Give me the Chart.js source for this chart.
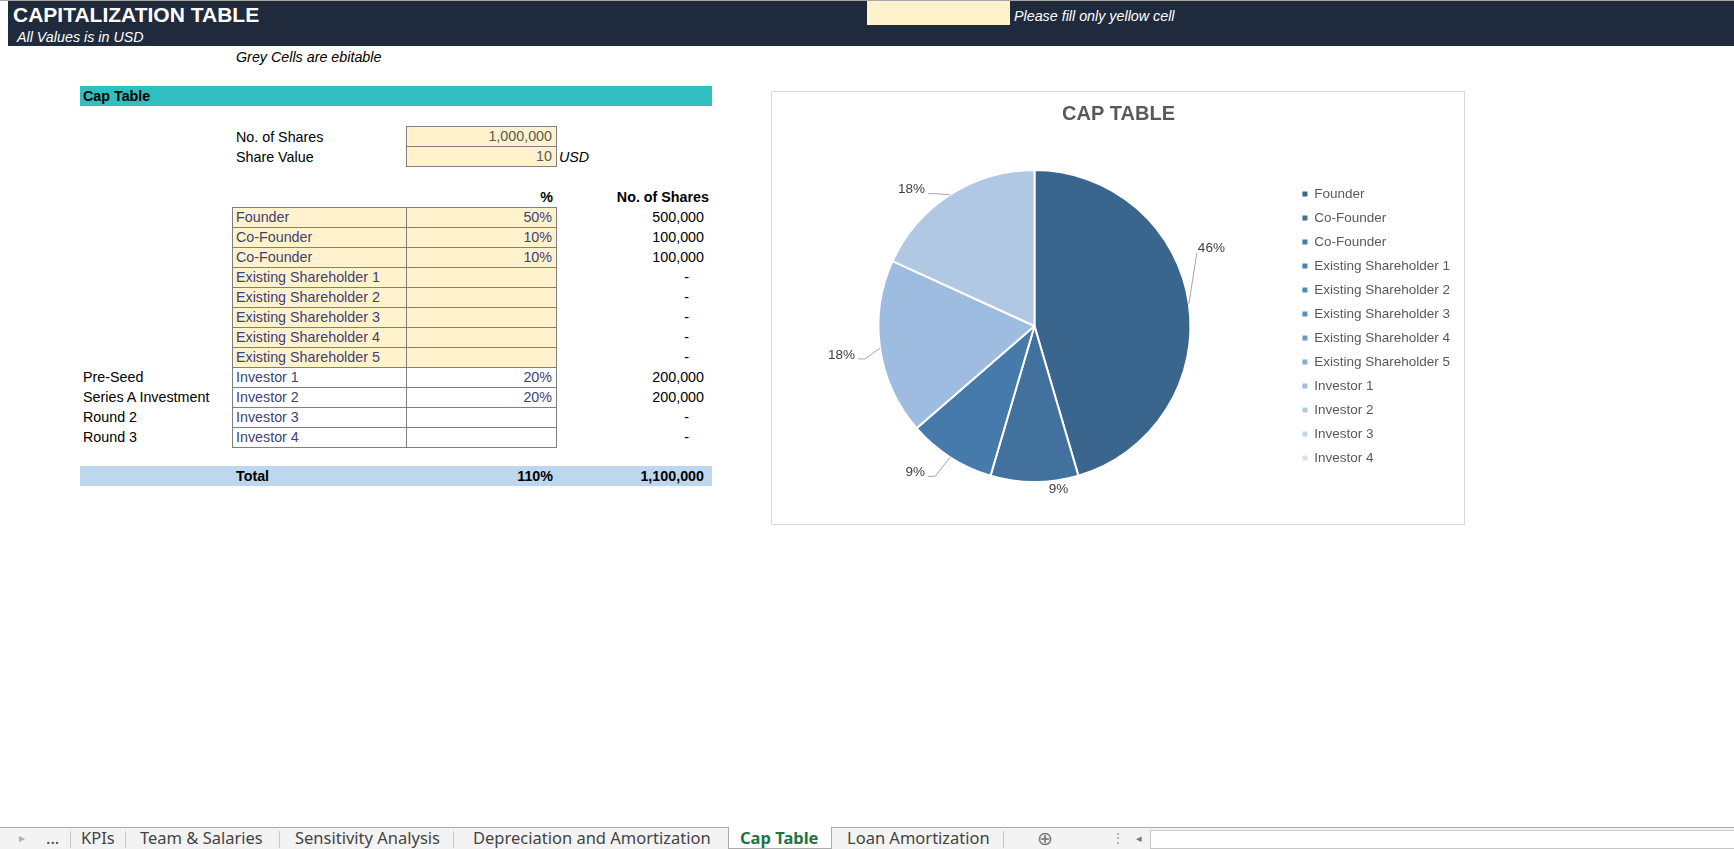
<!DOCTYPE html>
<html>
<head>
<meta charset="utf-8">
<script src="https://cdn.jsdelivr.net/npm/chart.js@4.4.1/dist/chart.umd.min.js"></script>
<style>
  html, body { margin: 0; padding: 0; }
  body {
    width: 1734px; height: 849px; overflow: hidden; position: relative;
    background: #fff; font-family: "Liberation Sans", Arial, sans-serif; font-size: 14.3px; color: #000;
  }
  .abs { position: absolute; white-space: nowrap; }
  #topline { left: 0; top: 0; width: 1734px; height: 1px; background: #A6A6A6; }
  #band { left: 8px; top: 1px; width: 1726px; height: 45px; background: #1F2A3D; }
  #title { left: 13px; top: 3px; font-size: 21px; font-weight: bold; color: #fff; }
  #subtitle { left: 17px; top: 29px; font-style: italic; color: #fff; }
  #yellowCell { left: 867px; top: 1px; width: 143px; height: 24px; background: #FFF2CC; }
  #fillNote { left: 1014px; top: 8px; font-style: italic; color: #fff; }
  #greyNote { left: 236px; top: 49px; font-style: italic; }
  #capBar { left: 80px; top: 86px; width: 632px; height: 20px; background: #31BEBE; }
  #capBar span { position: absolute; left: 3px; top: 2px; font-weight: bold; }
  .cell { position: absolute; box-sizing: border-box; height: 21px; border: 1px solid #7F7F7F; padding: 1px 4px 0 3px; white-space: nowrap; }
  .yellow { background: #FFF2CC; }
  .input { color: #3F3F76; }
  .num { text-align: right; }
  #totalBar { left: 80px; top: 466px; width: 632px; height: 20px; background: #BDD7EE; font-weight: bold; }
  #chartBox { left: 771px; top: 91px; width: 694px; height: 434px; box-sizing: border-box; border: 1px solid #D9D9D9; background: #fff; }
  #chartBox canvas { display: block; }
  #tabs { left: 0; top: 827px; width: 1734px; height: 22px; background: #F3F3F3; border-top: 1px solid #ABABAB; box-sizing: border-box;
          font-family: "Noto Sans", "Open Sans", sans-serif; font-size: 16.5px; color: #444; }
  .tab { position: absolute; top: -1px; line-height: 21px; }
  .sep { position: absolute; top: 3px; width: 1px; height: 17px; background: #C8C8C8; }
</style>
</head>
<body>
<div class="abs" id="topline"></div>
<div class="abs" id="band"></div>
<div class="abs" id="title">CAPITALIZATION TABLE</div>
<div class="abs" id="subtitle">All Values is in USD</div>
<div class="abs" id="yellowCell"></div>
<div class="abs" id="fillNote">Please fill only yellow cell</div>
<div class="abs" id="greyNote">Grey Cells are ebitable</div>
<div class="abs" id="capBar"><span>Cap Table</span></div>
<div class="abs" id="totalBar"></div>
<div class="abs" id="chartBox"><canvas id="chart-cap-table" width="692" height="432"></canvas></div>
<div class="abs" id="tabs"></div>

<script>
// -- DATA ----------------------------------------------
const holders = [
  "Founder", "Co-Founder", "Co-Founder",
  "Existing Shareholder 1", "Existing Shareholder 2", "Existing Shareholder 3",
  "Existing Shareholder 4", "Existing Shareholder 5",
  "Investor 1", "Investor 2", "Investor 3", "Investor 4"
];
const holderPct = [50, 10, 10, null, null, null, null, null, 20, 20, null, null];
const holderShares = [500000, 100000, 100000, 0, 0, 0, 0, 0, 200000, 200000, 0, 0];
const roundLabels = ["", "", "", "", "", "", "", "", "Pre-Seed", "Series A Investment", "Round 2", "Round 3"];
const totalShares = 1000000;
const shareValue = 10;
const sheetTabs = ["KPIs", "Team & Salaries", "Sensitivity Analysis", "Depreciation and Amortization", "Cap Table", "Loan Amortization"];
const activeTab = "Cap Table";

const sliceColors = [
  "#3A668E", "#41719C", "#467AAB", "#4A80B5", "#5087BD", "#5A8FC5",
  "#6A9BCF", "#84ACD9", "#9DBCE0", "#B1C8E5", "#C4D5EC", "#D6E2F2"
];

function fmt(n) {
  return n.toLocaleString("en-US");
}

function place(el, x, y, w, extra) {
  el.style.left = x + "px";
  el.style.top = y + "px";
  if (w) el.style.width = w + "px";
  if (extra) Object.assign(el.style, extra);
  document.body.appendChild(el);
  return el;
}

function text(str, cls) {
  const el = document.createElement("div");
  el.className = "abs " + (cls || "");
  el.textContent = str;
  return el;
}

// -- SHEET ---------------------------------------------
function buildSheet() {
  place(text("No. of Shares"), 236, 129);
  place(text("Share Value"), 236, 149);
  const c1 = text(fmt(totalShares), "cell yellow num");
  c1.style.color = "#595959";
  place(c1, 406, 126, 151);
  const c2 = text(String(shareValue), "cell yellow num");
  c2.style.color = "#595959";
  place(c2, 406, 146, 151);
  place(text("USD"), 559, 149, 0, { fontStyle: "italic" });

  place(text("%"), 553, 189, 0, { fontWeight: "bold", transform: "translateX(-100%)" });
  place(text("No. of Shares"), 709, 189, 0, { fontWeight: "bold", transform: "translateX(-100%)" });

  holders.forEach((name, i) => {
    const top = 207 + i * 20;
    const fill = i < 8 ? "yellow" : "";
    place(text(name, "cell input " + fill), 232, top, 175);
    place(text(holderPct[i] ? holderPct[i] + "%" : "", "cell input num " + fill), 406, top, 151);
    if (roundLabels[i]) place(text(roundLabels[i]), 83, top + 2);
    const shares = holderShares[i] ? fmt(holderShares[i]) : "-";
    place(text(shares), holderShares[i] ? 704 : 689, top + 2, 0, { transform: "translateX(-100%)" });
  });

  const pctTotal = holderPct.reduce((a, b) => a + (b || 0), 0);
  const shareTotal = holderShares.reduce((a, b) => a + b, 0);
  place(text("Total"), 236, 468, 0, { fontWeight: "bold" });
  place(text(pctTotal + "%"), 553, 468, 0, { fontWeight: "bold", transform: "translateX(-100%)" });
  place(text(fmt(shareTotal)), 704, 468, 0, { fontWeight: "bold", transform: "translateX(-100%)" });
}

function buildTabs() {
  const bar = document.getElementById("tabs");
  const lefts = [81, 140, 295, 473, 740, 847];
  const seps = [70, 125, 279, 453, 1003];
  const add = (html, x, css) => {
    const el = document.createElement("div");
    el.className = "tab";
    el.innerHTML = html;
    el.style.left = x + "px";
    if (css) Object.assign(el.style, css);
    bar.appendChild(el);
    return el;
  };
  add("&#9656;", 19, { color: "#B0B0B0", fontSize: "12px" });
  add("...", 46, { color: "#444" });
  seps.forEach((x) => {
    const s = document.createElement("div");
    s.className = "sep";
    s.style.left = x + "px";
    bar.appendChild(s);
  });
  const act = document.createElement("div");
  act.style.cssText = "position:absolute;left:728px;top:-1px;width:104px;height:22px;background:#fff;border:1px solid #ABABAB;border-top:none;box-sizing:border-box;";
  bar.appendChild(act);
  sheetTabs.forEach((name, i) => {
    const el = add("", lefts[i]);
    el.textContent = name;
    if (name === activeTab) {
      el.style.color = "#217346";
      el.style.fontWeight = "bold";
    }
  });
  add("&#8853;", 1037, { color: "#777", fontSize: "19px", lineHeight: "22px" });
  add("&#8942;", 1112, { color: "#999", fontSize: "12px" });
  add("&#9666;", 1136, { color: "#777", fontSize: "11px" });
  const sb = document.createElement("div");
  sb.style.cssText = "position:absolute;left:1150px;top:2px;width:584px;height:19px;background:#fff;border:1px solid #C6C6C6;border-right:none;box-sizing:border-box;";
  bar.appendChild(sb);
}

// -- CHART ---------------------------------------------
function roundedPercents(values) {
  const total = values.reduce((a, b) => a + b, 0);
  const raw = values.map((v) => (v / total) * 100);
  const out = raw.map(Math.floor);
  const missing = 100 - out.reduce((a, b) => a + b, 0);
  const order = raw.map((r, i) => [r - out[i], i]).sort((a, b) => b[0] - a[0]);
  for (let k = 0; k < missing; k++) out[order[k][1]] += 1;
  return out.map((p) => p + "%");
}

// percentage labels outside the pie with leader lines, roughly like Excel's best fit
const outsideLabels = {
  id: "outsideLabels",
  afterDatasetsDraw(chart) {
    const values = chart.data.datasets[0].data;
    const labels = roundedPercents(values);
    const meta = chart.getDatasetMeta(0);
    const ctx = chart.ctx;
    ctx.save();
    ctx.font = '13.5px "Liberation Sans", Arial, sans-serif';
    ctx.fillStyle = "#404040";
    ctx.strokeStyle = "#A6A6A6";
    ctx.lineWidth = 1;
    meta.data.forEach((arc, i) => {
      if (!values[i]) return;
      const p = arc.getProps(["x", "y", "startAngle", "endAngle", "outerRadius"], true);
      const mid = (p.startAngle + p.endAngle) / 2;
      const cos = Math.cos(mid);
      const sin = Math.sin(mid);
      const ex = p.x + cos * p.outerRadius;
      const ey = p.y + sin * p.outerRadius;
      if (Math.abs(cos) < 0.3) {
        ctx.textAlign = "center";
        ctx.textBaseline = sin > 0 ? "top" : "bottom";
        ctx.fillText(labels[i], ex + 24, ey + sin * 1);
        return;
      }
      ctx.textBaseline = "middle";
      ctx.beginPath();
      ctx.moveTo(ex, ey);
      if (cos > 0 && Math.abs(sin) < 0.3) {
        // wide slice on the right: label lifted above, leader runs up
        const ax = ex + 8;
        const ay = ey - 51;
        ctx.lineTo(ax, ay);
        ctx.stroke();
        ctx.textAlign = "left";
        ctx.fillText(labels[i], ax + 1, ay - 5);
        return;
      }
      const dir = cos > 0 ? 1 : -1;
      const ax = ex + dir * 15;
      const ay = ey + 9 + sin * 12;
      const hx = ax + dir * 7;
      ctx.lineTo(ax, ay);
      ctx.lineTo(hx, ay);
      ctx.stroke();
      ctx.textAlign = dir > 0 ? "left" : "right";
      ctx.fillText(labels[i], hx + dir * 3, ay - 4);
    });
    ctx.restore();
  }
};

function createCapChart() {
  const ctx = document.getElementById("chart-cap-table");
  const baseLabels = Chart.overrides.pie.plugins.legend.labels.generateLabels;
  const fontFamily = '"Liberation Sans", Arial, sans-serif';
  return new Chart(ctx, {
    type: "pie",
    data: {
      labels: holders,
      datasets: [
        {
          data: holderShares,
          backgroundColor: sliceColors,
          borderColor: "#FFFFFF",
          borderWidth: 2,
          radius: 156
        }
      ]
    },
    options: {
      responsive: false,
      animation: false,
      layout: { padding: { left: 5, right: 4, top: 0, bottom: 8 } },
      plugins: {
        title: {
          display: true,
          text: "CAP TABLE",
          color: "#595959",
          font: { family: fontFamily, size: 20, weight: "bold" },
          padding: { top: 10, bottom: 10 }
        },
        legend: {
          position: "right",
          align: "center",
          title: {
            display: true,
            text: " ",
            font: { family: fontFamily, size: 20 },
            padding: 10
          },
          labels: {
            color: "#595959",
            font: { family: fontFamily, size: 13.5 },
            boxWidth: 5,
            boxHeight: 5,
            padding: 10.5,
            generateLabels(chart) {
              return baseLabels(chart).map((item) => Object.assign(item, { lineWidth: 0, hidden: false }));
            }
          }
        },
        tooltip: { enabled: false }
      }
    },
    plugins: [outsideLabels]
  });
}

// -- RENDER --------------------------------------------
buildSheet();
buildTabs();
if (typeof Chart !== "undefined") {
  createCapChart();
}
</script>
</body>
</html>
